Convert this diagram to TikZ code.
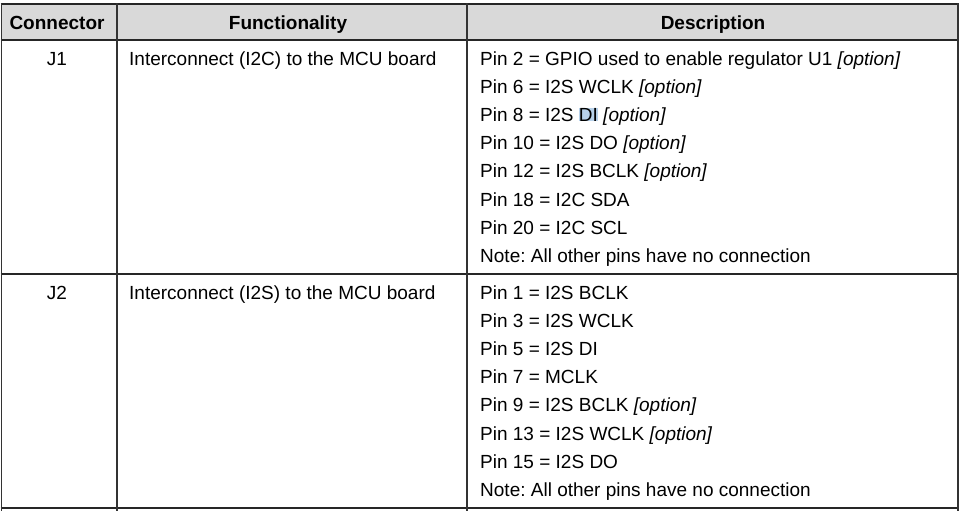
\documentclass[tikz,border=0pt]{standalone}
\usepackage{fontspec}
\setmainfont{Liberation Sans}
\frenchspacing
\definecolor{headgray}{HTML}{D9D9D9}
\definecolor{selblue}{HTML}{B7D1EA}
\newcommand{\opt}{\textit{[option]}}
\begin{document}
\begin{tikzpicture}[x=1pt, y=-1pt,
                    every node/.style={inner sep=0pt, font=\fontsize{19}{22}\selectfont},
                    head/.style={anchor=base, font=\fontsize{19}{22}\selectfont\bfseries},
                    conn/.style={anchor=base},
                    cell/.style={anchor=base west},
                    rule/.style={line width=2pt, black!85},
                    sep/.style={line width=1.6pt, black!80}]
  \useasboundingbox (0,0) rectangle (960,511);
  \fill[headgray] (1.5,4.5) rectangle (958,40);
  % header
  \node[head](hconn) at (57,30) {Connector};
  \node[head](hfunc) at (288,30) {Functionality};
  \node[head](hdesc) at (713,30) {Description};
  % J1
  \node[conn](jone) at (57,65) {J1};
  \node[cell](fone) at (129,65) {Interconnect (I2C) to the MCU board};
  \foreach \txt [count=\i] in {{Pin 2 = GPIO used to enable regulator U1 \opt},
                               {Pin 6 = I2S WCLK \opt},
                               {Pin 8 = I2S {\setlength\fboxsep{0pt}\colorbox{selblue}{DI}} \opt},
                               {Pin 10 = I2S DO \opt},
                               {Pin 12 = I2S BCLK \opt},
                               {Pin 18 = I2C SDA},
                               {Pin 20 = I2C SCL},
                               {Note: All other pins have no connection}}
    \node[cell](done\i) at (480,{65+(\i-1)*28.2}) {\txt};
  % J2
  \node[conn](jtwo) at (57,299) {J2};
  \node[cell](ftwo) at (129,299) {Interconnect (I2S) to the MCU board};
  \foreach \txt [count=\i] in {{Pin 1 = I2S BCLK},
                               {Pin 3 = I2S WCLK},
                               {Pin 5 = I2S DI},
                               {Pin 7 = MCLK},
                               {Pin 9 = I2S BCLK \opt},
                               {Pin 13 = I2S WCLK \opt},
                               {Pin 15 = I2S DO},
                               {Note: All other pins have no connection}}
    \node[cell](dtwo\i) at (480,{299+(\i-1)*28.2}) {\txt};
  % rules
  \foreach \y in {4.5, 40, 274, 508}
    \draw[rule] (0.5,\y) -- (959,\y);
  \foreach \x in {1.5, 117, 467, 958}
    \draw[sep] (\x,3.5) -- (\x,511);
\end{tikzpicture}
\end{document}
